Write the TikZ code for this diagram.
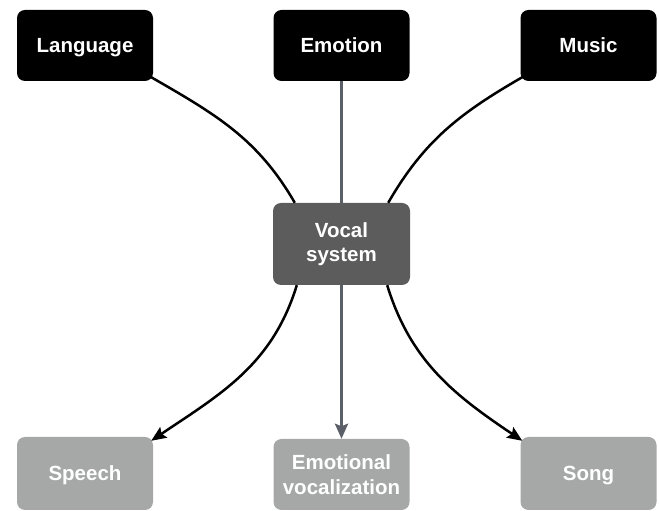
\documentclass[tikz,border=0pt]{standalone}
\usepackage{fontspec}
\setmainfont{Liberation Sans}
\usetikzlibrary{arrows.meta,calc}
\definecolor{vocalgray}{HTML}{5C5C5C}
\definecolor{outgray}{HTML}{A6A8A7}
\definecolor{arrowgray}{HTML}{5B6068}
\begin{document}
\begin{tikzpicture}[x=1pt,y=1pt,
  box/.style={rounded corners=8pt, minimum width=136pt, minimum height=71pt, inner sep=0pt,
    text=white, align=center, font=\fontsize{20.5}{24.5}\selectfont\bfseries},
  oneline/.style={text height=15pt, text depth=0pt},
  topbox/.style={box, oneline, fill=black},
  midbox/.style={box, fill=vocalgray, minimum width=137pt, minimum height=82pt},
  outbox/.style={box, fill=outgray, minimum height=73pt},
  link/.style={line width=2.5pt, black},
  tip/.style={-{Stealth[length=15pt,width=12.5pt,inset=2.5pt]}}
]
\useasboundingbox (0,0) rectangle (659,511);
\node[topbox] (lang) at (85,465.5) {Language};
\node[topbox] (emo) at (341.5,465.5) {Emotion};
\node[topbox] (mus) at (588.5,465.5) {Music};
\node[midbox] (voc) at (341.5,267) {Vocal\\system};
\node[outbox, oneline] (speech) at (85,37.5) {Speech};
\node[outbox, minimum height=71pt] (emov) at (341.5,36.5) {Emotional\\vocalization};
\node[outbox, oneline] (song) at (588.5,37.5) {Song};

\draw[link] ($(lang.south east)+(-2,4)$) to[out=-30,in=120] ($(voc.north west)+(22,0)$);
\draw[link] ($(mus.south west)+(2,4)$) to[out=210,in=60] ($(voc.north east)+(-22,0)$);
\draw[line width=3.3pt, arrowgray] (emo.south) -- (voc.north);
\draw[line width=3.3pt, arrowgray, -{Stealth[length=15pt,width=13pt,inset=2.5pt]}] (voc.south) -- (emov.north);
\draw[link, tip] ($(voc.south west)+(24,0)$) to[out=-107,in=34] ($(speech.north east)+(-2,-4)$);
\draw[link, tip] ($(voc.south east)+(-23,0)$) to[out=-73,in=146] ($(song.north west)+(2,-4)$);
\end{tikzpicture}
\end{document}
